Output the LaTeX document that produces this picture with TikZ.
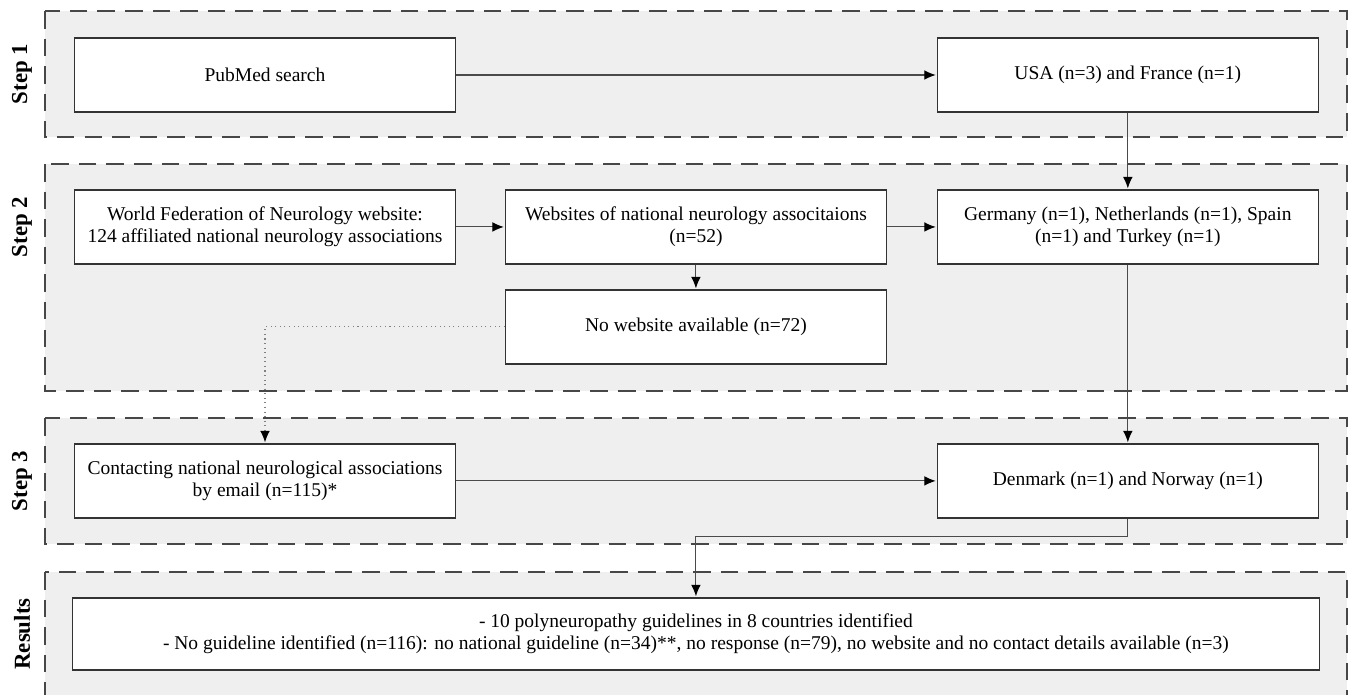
\documentclass[tikz,border=0pt]{standalone}
\usepackage{fontspec}
\setmainfont{Liberation Serif}
\usepackage{tikz}
\usetikzlibrary{arrows.meta,positioning}
\usepackage{xcolor}
\definecolor{panelgray}{HTML}{EFEFEF}
\definecolor{boxline}{HTML}{333333}
\definecolor{linkgray}{HTML}{4A4A4A}

\begin{document}
\begin{tikzpicture}[x=0.02cm,y=-0.02cm,>={Latex[length=6.5pt,width=5.5pt,black]},shorten >=0.5pt,on grid,
    box/.style={draw=boxline,line width=0.85pt,fill=white,minimum width=7.62cm,minimum height=1.48cm,align=center,font=\fontsize{11.1}{12.8}\selectfont},
    panel/.style={fill=panelgray,draw=black!72,line width=1.1pt,dash pattern=on 10pt off 5.7pt},
    steplabel/.style={rotate=90,font=\fontsize{13}{15}\selectfont\bfseries}]
  \useasboundingbox (0,0) rectangle (1349,695);

  % panels
  \begin{scope}
    \clip (0,0) rectangle (1349,695);
    \path[panel] (45,11) rectangle (1347,137);
    \path[panel] (45,164) rectangle (1347,391);
    \path[panel] (45,418) rectangle (1347,544);
    \path[panel] (45,572) rectangle (1347,720);
  \end{scope}

  \node[steplabel] (lab1) at (22,74)  {Step 1};
  \node[steplabel] (lab2) at (22,227) {Step 2};
  \node[steplabel] (lab3) at (22,481) {Step 3};
  \node[steplabel] (labr) at (22,634) {Results};

  % boxes
  \node[box]          (pubmed)     at (265,75)               {PubMed search};
  \node[box]          (usa)        [right=17.26cm of pubmed] {USA (n=3) and France (n=1)};
  \node[box]          (wfn)        [below=3.04cm of pubmed]  {World Federation of Neurology website:\\124 affiliated national neurology associations};
  \node[box]          (websites)   [right=8.62cm of wfn]     {Websites of national neurology associtaions\\(n=52)};
  \node[box]          (germany)    [below=3.04cm of usa]     {Germany (n=1), Netherlands (n=1), Spain\\(n=1) and Turkey (n=1)};
  \node[box]          (nowebsite)  [below=2cm of websites]   {No website available (n=72)};
  \node[box]          (contacting) [below=5.08cm of wfn]     {Contacting national neurological associations\\by email (n=115)*};
  \node[box]          (denmark)    [below=5.08cm of germany] {Denmark (n=1) and Norway (n=1)};
  \node[box,minimum width=24.94cm,minimum height=1.44cm]
                      (results)    [below=8.14cm of websites] {- 10 polyneuropathy guidelines in 8 countries identified\\- No guideline identified (n=116): no national guideline (n=34)**, no response (n=79), no website and no contact details available (n=3)};

  \tikzset{link/.style={->,draw=linkgray,line width=0.6pt}}
  \tikzset{dotlink/.style={->,draw=gray,line width=0.6pt,dotted}}
  \path (pubmed)     edge [link] (usa)
        (usa)        edge [link] (germany)
        (wfn)        edge [link] (websites)
        (websites)   edge [link] (germany)
        (websites)   edge [link] (nowebsite)
        (germany)    edge [link] (denmark)
        (contacting) edge [link] (denmark);
  \draw[dotlink] (nowebsite.west) -| (contacting.north);
  \draw[link] (denmark.south) -- ++(0,18) -| (results.north);
\end{tikzpicture}
\end{document}
